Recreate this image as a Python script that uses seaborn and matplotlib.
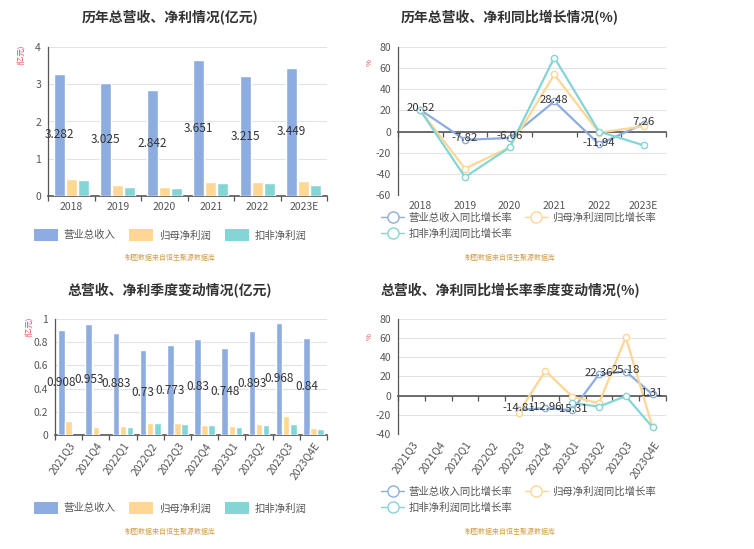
import numpy as np
import pandas as pd
import seaborn as sns
import matplotlib.pyplot as plt
from matplotlib.lines import Line2D
from matplotlib.patches import Patch

# ---- data -------------------------------------------------------------------
years = ["2018", "2019", "2020", "2021", "2022", "2023E"]
rev_year = [3.282, 3.025, 2.842, 3.651, 3.215, 3.449]
np_year = [0.45, 0.29, 0.25, 0.38, 0.37, 0.39]
kf_year = [0.44, 0.25, 0.21, 0.36, 0.35, 0.30]

rev_yoy_year = [20.52, -7.82, -6.06, 28.48, -11.94, 7.26]
np_yoy_year = [20.0, -35.0, -15.0, 54.0, -1.0, 5.0]
kf_yoy_year = [20.0, -43.0, -15.0, 70.0, 0.0, -13.0]

quarters = ["2021Q3", "2021Q4", "2022Q1", "2022Q2", "2022Q3",
            "2022Q4", "2023Q1", "2023Q2", "2023Q3", "2023Q4E"]
rev_q = [0.908, 0.953, 0.883, 0.73, 0.773, 0.83, 0.748, 0.893, 0.968, 0.84]
np_q = [0.12, 0.07, 0.075, 0.10, 0.10, 0.085, 0.075, 0.095, 0.165, 0.06]
kf_q = [np.nan, np.nan, 0.07, 0.10, 0.095, 0.085, 0.065, 0.09, 0.095, 0.055]

rev_yoy_q = [np.nan, np.nan, np.nan, np.nan, -14.81, -12.96, -15.31, 22.36, 25.18, 1.31]
np_yoy_q = [np.nan, np.nan, np.nan, np.nan, -18.0, 26.0, -1.0, -8.0, 61.0, -33.0]
kf_yoy_q = [np.nan, np.nan, np.nan, np.nan, np.nan, np.nan, -7.5, -11.5, -0.5, -33.0]

bar_names = ["营业总收入", "归母净利润", "扣非净利润"]
line_names = ["营业总收入同比增长率", "归母净利润同比增长率", "扣非净利润同比增长率"]
colors = ["#8DADE0", "#FFD694", "#84D6D6"]
source = "制图数据来自恒生聚源数据库"

# ---- style ------------------------------------------------------------------
sns.set_style("white")
plt.rcParams["font.family"] = ["Noto Sans CJK SC", "DejaVu Sans"]
plt.rcParams["axes.unicode_minus"] = False

GRID = "#E3E3E3"
AXIS = "#555555"
TXT = "#555555"

fig = plt.figure(figsize=(7.54, 5.49), dpi=100)
W, H = 754, 549


def px_axes(left, top, right, bottom):
    return fig.add_axes([left / W, 1 - bottom / H, (right - left) / W, (bottom - top) / H])


def base_style(ax, ylim, yticks):
    ax.set_ylim(*ylim)
    ax.set_yticks(yticks)
    ax.set_yticklabels([f"{t:g}" for t in yticks], fontsize=7.5, color=TXT)
    for t in yticks:
        ax.axhline(t, color=GRID, lw=0.8, zorder=0)
    for s in ["top", "right", "bottom"]:
        ax.spines[s].set_visible(False)
    ax.spines["left"].set_color(AXIS)
    ax.spines["left"].set_linewidth(0.9)
    ax.tick_params(axis="y", direction="out", length=3, color=AXIS, pad=2)
    ax.set_xlabel("")
    ax.set_ylabel("")


def cat_axis(ax, labels, rotate=False):
    n = len(labels)
    ax.set_xlim(-0.5, n - 0.5)
    ax.set_xticks(np.arange(n))
    if rotate:
        ax.set_xticklabels(labels, fontsize=7.5, color=TXT, rotation=55,
                           ha="right", rotation_mode="anchor")
    else:
        ax.set_xticklabels(labels, fontsize=7.5, color=TXT)
    ax.tick_params(axis="x", which="major", length=0, pad=4)
    # zero line with boundary ticks
    ymin, ymax = ax.get_ylim()
    loc = (0 - ymin) / (ymax - ymin)
    sec = ax.secondary_xaxis(loc)
    sec.set_xticks(np.arange(n + 1) - 0.5)
    sec.set_xticklabels([])
    sec.tick_params(direction="out", length=3.5, color=AXIS, width=0.9)
    sec.spines["bottom"].set_color(AXIS)
    sec.spines["bottom"].set_linewidth(1.2)


def bar_panel(ax, cats, rev, npv, kfv, ylim, yticks, rotate):
    df = pd.DataFrame({"cat": cats * 3,
                       "value": list(rev) + list(npv) + list(kfv),
                       "series": [bar_names[0]] * len(cats) + [bar_names[1]] * len(cats)
                       + [bar_names[2]] * len(cats)})
    sns.barplot(data=df, x="cat", y="value", hue="series", order=cats,
                hue_order=bar_names, palette=colors, width=0.78, gap=0.08,
                saturation=1, ax=ax, legend=False, zorder=2)
    base_style(ax, ylim, yticks)
    cat_axis(ax, cats, rotate)
    # value labels in the middle of revenue bars
    rev_bars = ax.containers[0]
    for rect, v in zip(rev_bars, rev):
        ax.text(rect.get_x() + rect.get_width() / 2, v / 2, f"{v:g}",
                ha="center", va="center", fontsize=8.5, color="#333333", zorder=5)


def line_panel(ax, cats, s1, s2, s3, ylim, yticks, rotate):
    x = np.arange(len(cats))
    df = pd.DataFrame({"x": np.tile(x, 3),
                       "value": list(s1) + list(s2) + list(s3),
                       "series": [line_names[0]] * len(cats) + [line_names[1]] * len(cats)
                       + [line_names[2]] * len(cats)})
    sns.lineplot(data=df.dropna(), x="x", y="value", hue="series", hue_order=line_names,
                 palette=colors, marker="o", markersize=4.5, markerfacecolor="white",
                 markeredgewidth=1.0, lw=1.6, ax=ax, legend=False, zorder=3)
    for line, c in zip(ax.lines, colors):
        line.set_markeredgecolor(c)
    base_style(ax, ylim, yticks)
    cat_axis(ax, cats, rotate)
    for xi, v in zip(x, s1):
        if not np.isnan(v):
            ax.text(xi, v + 1.5, f"{v:g}", ha="center", va="center",
                    fontsize=8.2, color="#333333", zorder=5)


def bar_legend(ax, y):
    handles = [Patch(facecolor=c, edgecolor="none") for c in colors]
    fig.legend(handles, bar_names, loc="center", bbox_to_anchor=(170 / W, 1 - y / H),
               ncol=3, frameon=False, fontsize=7.5, handlelength=2.3, handleheight=1.3,
               columnspacing=1.4, handletextpad=0.5, labelcolor=TXT)


def line_legend(ax, y):
    hs = [Line2D([0], [0], color=c, lw=1.0, marker="o", markersize=8,
                 markerfacecolor="white", markeredgecolor=c) for c in colors]
    order = [0, 2, 1]
    fig.legend([hs[i] for i in order], [line_names[i] for i in order],
               loc="upper left", bbox_to_anchor=(372 / W, 1 - y / H), ncol=2,
               frameon=False, fontsize=7.5, handlelength=2.2, handletextpad=0.4,
               columnspacing=1.2, labelspacing=0.55, labelcolor=TXT)


# ---- panels -----------------------------------------------------------------
ax1 = px_axes(48, 47, 327, 196)
bar_panel(ax1, years, rev_year, np_year, kf_year, (0, 4), [0, 1, 2, 3, 4], False)

ax2 = px_axes(398, 47, 666, 195)
line_panel(ax2, years, rev_yoy_year, np_yoy_year, kf_yoy_year, (-60, 80),
           [-60, -40, -20, 0, 20, 40, 60, 80], False)

ax3 = px_axes(55, 319, 327, 435)
bar_panel(ax3, quarters, rev_q, np_q, kf_q, (0, 1), [0, 0.2, 0.4, 0.6, 0.8, 1], True)

ax4 = px_axes(398, 319, 666, 434)
line_panel(ax4, quarters, rev_yoy_q, np_yoy_q, kf_yoy_q, (-40, 80),
           [-40, -20, 0, 20, 40, 60, 80], True)

# titles
titles = [("历年总营收、净利情况(亿元)", 170, 18), ("历年总营收、净利同比增长情况(%)", 510, 18),
          ("总营收、净利季度变动情况(亿元)", 170, 291), ("总营收、净利同比增长率季度变动情况(%)", 510, 291)]
for t, x, y in titles:
    fig.text(x / W, 1 - y / H, t, ha="center", va="center", fontsize=10,
             fontweight="bold", color="#333333")

# unit labels
for x, y, t in [(21, 55, "(亿元)"), (29, 327, "(亿元)"), (370, 63, "%"), (370, 337, "%")]:
    fig.text(x / W, 1 - y / H, t, ha="center", va="center", rotation=90,
             fontsize=5.5, color="#E8474B")

# legends
bar_legend(ax1, 235)
bar_legend(ax3, 508)
line_legend(ax2, 203)
line_legend(ax4, 477)

# source notes
for x, y in [(170, 258), (510, 258), (170, 532), (510, 532)]:
    fig.text(x / W, 1 - y / H, source, ha="center", va="center", fontsize=5,
             color="#D2A04E")

fig.savefig("out.png", dpi=100)
